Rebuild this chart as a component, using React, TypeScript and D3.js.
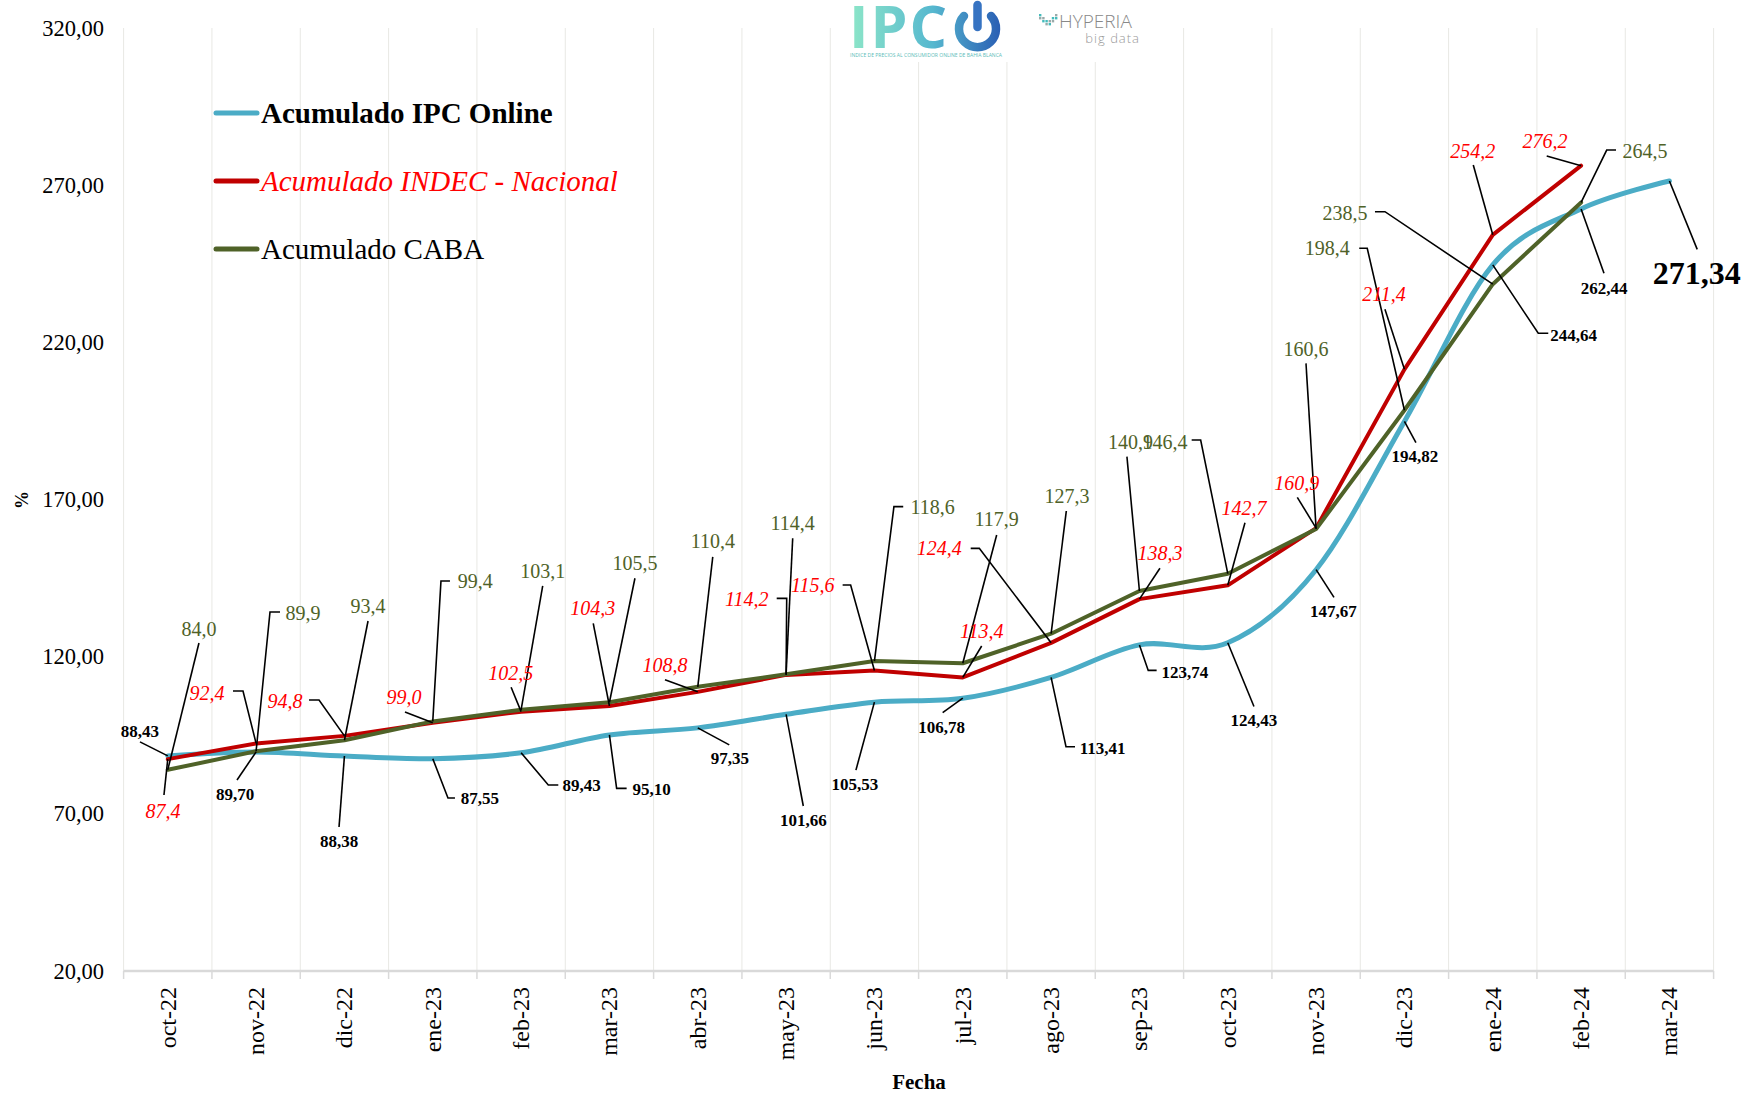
import React from 'react';
import * as d3 from 'd3';

const months = ["oct-22","nov-22","dic-22","ene-23","feb-23","mar-23","abr-23","may-23","jun-23","jul-23","ago-23","sep-23","oct-23","nov-23","dic-23","ene-24","feb-24","mar-24"];

const ipcOnline = [88.43, 89.70, 88.38, 87.55, 89.43, 95.10, 97.35, 101.66, 105.53, 106.78, 113.41, 123.74, 124.43, 147.67, 194.82, 244.64, 262.44, 271.34];
const indecNacional = [87.4, 92.4, 94.8, 99.0, 102.5, 104.3, 108.8, 114.2, 115.6, 113.4, 124.4, 138.3, 142.7, 160.9, 211.4, 254.2, 276.2];
const cabaAcum = [84.0, 89.9, 93.4, 99.4, 103.1, 105.5, 110.4, 114.4, 118.6, 117.9, 127.3, 140.9, 146.4, 160.6, 198.4, 238.5, 264.5];

const yTicks = [20, 70, 120, 170, 220, 270, 320];

const legendNames = ["Acumulado IPC Online", "Acumulado INDEC - Nacional", "Acumulado CABA"];

// label layout: [textDx, textDy, leaderDx, leaderDy, hookDx | null] relative to the data point
type L = [number, number, number, number, number | null];
const ipcLabelLayout: L[] = [
  [-27.8, -24.9, -27.8, -14, null],
  [-21.1, 42.1, -19.1, 28.1, null],
  [-5.4, 85.9, -5.4, 70.9, null],
  [47.2, 40.3, 15.2, 39.3, 22.2],
  [60.6, 33.2, 27.2, 32.2, 37.2],
  [42.2, 54.4, 7.2, 53.4, 17.2],
  [32.2, 30.5, 31.5, 17, null],
  [17.2, 106.4, 17.2, 91.7, null],
  [-19.5, 81.9, -18.5, 68, null],
  [-21.1, 29.1, -20.1, 14.5, null],
  [51.6, 71, 14.9, 69.3, 23.9],
  [45.5, 27.2, 8.8, 25.5, 17.2],
  [26.2, 77.7, 26.2, 63.7, null],
  [17.2, 42.1, 17.9, 27.7, null],
  [10.5, 35.2, 11.5, 21.2, null],
  [80.9, 70.8, 45.5, 68.4, 55.5],
  [22.9, 79.4, 22.9, 64.4, null],
  [27.2, 92.4, 27.8, 68.4, null],
];
const indecLabelLayout: L[] = [
  [-4.8, 51.9, -3.8, 35.9, null],
  [-49.1, -50.4, -13.1, -52.4, -23.1],
  [-59.4, -34.9, -25.4, -35.9, -35.4],
  [-28.8, -25.7, -27.8, -10.7, null],
  [-10.4, -39, -10, -24.4, null],
  [-16.8, -97.7, -16.2, -82.7, null],
  [-32.8, -27, -32.8, -12, null],
  [-39.4, -75.5, 0.6, -76.5, -9.4],
  [-61.8, -85.5, -23.8, -85.5, -31.8],
  [18.9, -46.4, 18.9, -31.4, null],
  [-111.8, -94.5, -71.8, -94.5, -80.4],
  [20.5, -45.9, 20.5, -30.9, null],
  [16.2, -77.5, 17.2, -62.5, null],
  [-19.4, -45.4, -18.8, -30.8, null],
  [-20.5, -75.4, -19.5, -60.1, null],
  [-20.1, -84.1, -19.5, -69.8, null],
  [-36.1, -25, -34.4, -9.7, null],
];
const cabaLabelLayout: L[] = [
  [31.2, -140.8, 31.2, -126.8, null],
  [46.9, -138.3, 13.9, -139.3, 23.9],
  [23.6, -134.3, 23.6, -119.3, null],
  [42.5, -140.4, 8.2, -140.4, 17.2],
  [21.6, -139, 21.6, -124, null],
  [25.5, -139, 25.5, -124, null],
  [15, -145.8, 15, -130, null],
  [6.6, -151.6, 6.6, -136, null],
  [58.2, -153.8, 19.5, -154.4, 28.8],
  [33.9, -144, 33.9, -128.3, null],
  [16, -138, 15.2, -122.7, null],
  [-9, -148.7, -12.5, -134.3, null],
  [-62.8, -131.4, -27.1, -133.7, -36.1],
  [-10.1, -179.7, -10.1, -165.7, null],
  [-77.2, -162, -37.2, -162, -45.2],
  [-147.8, -70.9, -107.8, -72.5, -117.8],
  [63.9, -51.7, 25.6, -52.4, 34.9],
];

const W = 1762, H = 1101;
const PL = 123.6, PR = 1713.6, PT = 28, PB = 971;
const SERIF = "'Liberation Serif', 'Times New Roman', serif";
const BLUE = "#4bacc6", RED = "#c00000", GREEN = "#4f6228";

export default function App() {
  const x = d3.scaleBand<string>().domain(months).range([PL, PR]).padding(0);
  const cx = (i: number) => (x(months[i]) as number) + x.bandwidth() / 2;
  const y = d3.scaleLinear().domain([20, 320]).range([PB, PT]);
  const fmt2 = (v: number) => v.toFixed(2).replace('.', ',');
  const fmt1 = (v: number) => v.toFixed(1).replace('.', ',');

  const smooth = d3.line<number>().x((_, i) => cx(i)).y(d => y(d)).curve(d3.curveCardinal.tension(0));
  const straight = d3.line<number>().x((_, i) => cx(i)).y(d => y(d));

  const bounds = months.map(m => x(m) as number).concat([PR]);

  const leader = (px: number, py: number, l: L) => {
    let d = `M${px},${py}L${px + l[2]},${py + l[3]}`;
    if (l[4] !== null) d += `L${px + l[4]},${py + l[3]}`;
    return d;
  };

  const labelSets = [
    { vals: cabaAcum, layout: cabaLabelLayout, fmt: fmt1, fill: GREEN, size: 20, weight: 'normal', style: 'normal' },
    { vals: indecNacional, layout: indecLabelLayout, fmt: fmt1, fill: '#ff0000', size: 20, weight: 'normal', style: 'italic' },
    { vals: ipcOnline, layout: ipcLabelLayout, fmt: fmt2, fill: '#000000', size: 17, weight: 'bold', style: 'normal' },
  ];

  const legendColors = [BLUE, RED, GREEN];
  const legendY = [113, 181, 249];

  return (
    <svg width={W} height={H} style={{ position: 'absolute', left: 0, top: 0, background: '#fff' }} fontFamily={SERIF}>
      <defs>
        <linearGradient id="ipcg" gradientUnits="userSpaceOnUse" x1="850" x2="1000" y1="0" y2="0">
          <stop offset="0" stopColor="#8de6c8" />
          <stop offset="0.55" stopColor="#56b8cf" />
          <stop offset="1" stopColor="#2a5fb4" />
        </linearGradient>
      </defs>
      <rect width={W} height={H} fill="#fff" />
      {/* vertical gridlines */}
      {bounds.map((b, i) => (
        <line key={i} x1={b} x2={b} y1={PT} y2={PB} stroke="#e8e8e4" strokeWidth={1} />
      ))}
      {/* x axis */}
      <line x1={PL} x2={PR} y1={PB} y2={PB} stroke="#d9d9d9" strokeWidth={2.5} />
      {bounds.map((b, i) => (
        <line key={'t' + i} x1={b} x2={b} y1={PB} y2={PB + 8} stroke="#d9d9d9" strokeWidth={1.5} />
      ))}
      {/* y tick labels */}
      {yTicks.map(t => (
        <text key={t} x={104} y={y(t)} textAnchor="end" dominantBaseline="central" fontSize={22.5} fill="#000">{t.toFixed(2).replace('.', ',')}</text>
      ))}
      {/* month labels */}
      {months.map((m, i) => (
        <text key={m} transform={`translate(${cx(i)},${PB + 16}) rotate(-90)`} textAnchor="end" dominantBaseline="central" fontSize={24} fill="#000">{m}</text>
      ))}
      <text x={919} y={1082} textAnchor="middle" dominantBaseline="central" fontSize={21} fontWeight="bold">Fecha</text>
      <text transform={`translate(22,500) rotate(-90)`} textAnchor="middle" dominantBaseline="central" fontSize={18} fontWeight="bold">%</text>

      {/* series lines */}
      <path d={smooth(ipcOnline) as string} fill="none" stroke={BLUE} strokeWidth={5} strokeLinejoin="round" strokeLinecap="round" />
      <path d={straight(indecNacional) as string} fill="none" stroke={RED} strokeWidth={4} strokeLinejoin="round" strokeLinecap="round" />
      <path d={straight(cabaAcum) as string} fill="none" stroke={GREEN} strokeWidth={4} strokeLinejoin="round" strokeLinecap="round" />

      {/* leader lines and labels */}
      {labelSets.map((s, si) => (
        <g key={si}>
          {s.vals.map((v, i) => {
            const px = cx(i), py = y(v);
            const l = s.layout[i];
            return <path key={i} d={leader(px, py, l)} fill="none" stroke="#000" strokeWidth={1.6} />;
          })}
        </g>
      ))}
      {labelSets.map((s, si) => (
        <g key={'l' + si}>
          {s.vals.map((v, i) => {
            const px = cx(i), py = y(v);
            const l = s.layout[i];
            const last = si === 2 && i === s.vals.length - 1;
            return (
              <text key={i} x={px + l[0]} y={py + l[1]} textAnchor="middle" dominantBaseline="central"
                fontSize={last ? 32 : s.size} fontWeight={s.weight} fontStyle={s.style} fill={s.fill}>{s.fmt(v)}</text>
            );
          })}
        </g>
      ))}

      {/* legend */}
      {legendNames.map((n, i) => (
        <g key={n}>
          <line x1={216} x2={257} y1={legendY[i]} y2={legendY[i]} stroke={legendColors[i]} strokeWidth={5} strokeLinecap="round" />
          <text x={261} y={legendY[i]} dominantBaseline="central" fontSize={29}
            fontWeight={i === 0 ? 'bold' : 'normal'} fontStyle={i === 1 ? 'italic' : 'normal'}
            fill={i === 1 ? '#ff0000' : '#000'}>{n}</text>
        </g>
      ))}

      {/* logos */}
      <g>
        <rect x={845} y={0} width={305} height={62} fill="#fff" />
        <text x={849} y={48} fontFamily="'Open Sans', sans-serif" fontWeight={700} fontSize={59} fill="url(#ipcg)" letterSpacing={2}>IPC</text>
        <path d="M964,16 A18.5,18.5 0 1 0 991,16" fill="none" stroke="url(#ipcg)" strokeWidth={8.5} strokeLinecap="round" />
        <line x1={977.5} y1={5} x2={977.5} y2={27} stroke="#3673c2" strokeWidth={8.5} strokeLinecap="round" />
        <text x={850} y={57} fontFamily="'Open Sans', sans-serif" fontSize={5} fill="#5cbcb8" textLength={152} lengthAdjust="spacingAndGlyphs">INDICE DE PRECIOS AL CONSUMIDOR ONLINE DE BAHIA BLANCA</text>
        {[0, 1, 2, 3, 4, 5].map(k => (
          <g key={k}>
            <rect x={1039 + k * 3.2} y={14 + (k < 3 ? k : 5 - k) * 3} width={2.4} height={2.4} fill={k % 2 ? '#9aa' : '#4bb'} />
            <rect x={1039 + k * 3.2} y={17 + (k < 3 ? k : 5 - k) * 3} width={2.4} height={2.4} fill={k % 2 ? '#4bb' : '#9aa'} />
          </g>
        ))}
        <text x={1059} y={28} fontFamily="'Open Sans', sans-serif" fontWeight={300} fontSize={19} fill="#888">HYPERIA</text>
        <text x={1140} y={43} textAnchor="end" fontFamily="'Open Sans', sans-serif" fontWeight={300} fontSize={13} fill="#999" letterSpacing={1}>big data</text>
      </g>
    </svg>
  );
}
